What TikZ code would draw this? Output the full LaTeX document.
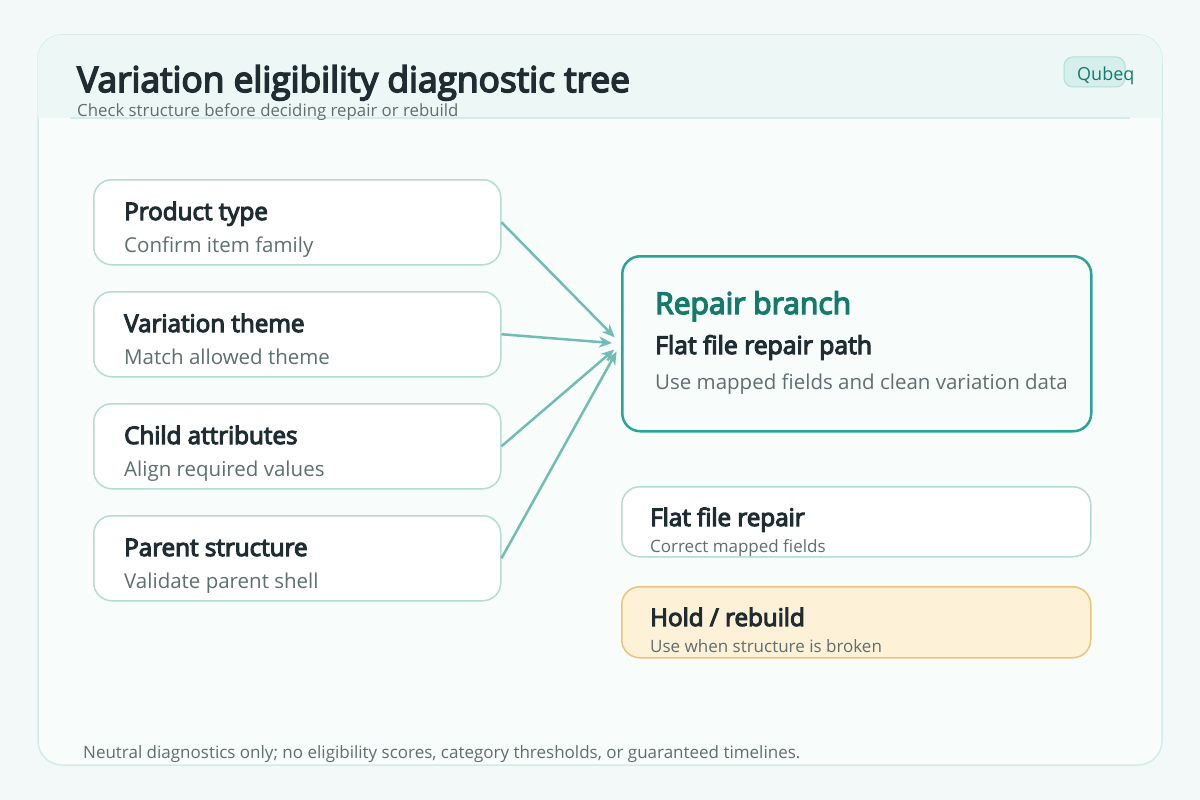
\documentclass[tikz,border=0pt]{standalone}
\usepackage{fontspec}
\setmainfont{Open Sans}
\newfontfamily\heavy[FakeBold=4.5]{Open Sans}
\usetikzlibrary{arrows.meta}
\definecolor{bg}{HTML}{F3F9F8}
\definecolor{cardfill}{HTML}{F8FCFB}
\definecolor{cardline}{HTML}{D3ECE7}
\definecolor{headfill}{HTML}{EDF7F5}
\definecolor{boxline}{HTML}{B5DBD5}
\definecolor{accent}{HTML}{2AA398}
\definecolor{accentdark}{HTML}{147A6C}
\definecolor{arrowc}{HTML}{70BDB3}
\definecolor{ink}{HTML}{1F2D33}
\definecolor{muted}{HTML}{5F6E6E}
\definecolor{holdfill}{HTML}{FDF2D8}
\definecolor{holdline}{HTML}{E9C47A}
\definecolor{badgefill}{HTML}{D6EFEC}
\definecolor{badgeline}{HTML}{B4DDD7}
\tikzset{
  card/.style={draw=boxline, line width=1.5pt, fill=white, rounded corners=18pt, inner sep=0pt},
  ttl/.style={anchor=base west, inner sep=0pt, text=ink, font=\heavy\fontsize{24.2}{28}\selectfont},
  sub/.style={anchor=base west, inner sep=0pt, text=muted, font=\fontsize{20.5}{24}\selectfont},
  smallsub/.style={anchor=base west, inner sep=0pt, text=muted, font=\fontsize{17}{20}\selectfont},
  arr/.style={draw=arrowc, line width=2.5pt, -{Stealth[length=13pt,width=11pt]}, shorten >=9pt}
}
\begin{document}
\begin{tikzpicture}[x=1pt,y=-1pt]
\useasboundingbox (0,0) rectangle (1200,800);
\fill[bg] (0,0) rectangle (1200,800);
% card
\draw[cardline, line width=1.5pt, fill=cardfill, rounded corners=24pt] (38,35) rectangle (1162,765);
\begin{scope}
\clip[rounded corners=24pt] (38,35) rectangle (1162,765);
\fill[headfill] (38,35) rectangle (1162,118);
\end{scope}
\draw[cardline, line width=1.5pt] (70,118) -- (1130,118);
% header texts
\node[anchor=base west, inner sep=0pt, text=ink, font=\heavy\fontsize{35.3}{40}\selectfont] (title) at (77,92) {Variation eligibility diagnostic tree};
\node[anchor=base west, inner sep=0pt, text=muted, font=\fontsize{16.8}{20}\selectfont] (subtitle) at (77,116) {Check structure before deciding repair or rebuild};
% badge
\draw[badgeline, fill=badgefill, line width=1pt, rounded corners=9pt] (1064,57) rectangle (1125,87);
\node[anchor=base west, inner sep=0pt, text=accentdark, font=\fontsize{18}{20}\selectfont] (badge) at (1077,81) {Qubeq};
% left boxes
\node[card, minimum width=407pt, minimum height=85pt, anchor=north west] (b1) at (93,179) {};
\node[card, minimum width=407pt, minimum height=85pt, anchor=north west] (b2) at (93,291) {};
\node[card, minimum width=407pt, minimum height=85pt, anchor=north west] (b3) at (93,403) {};
\node[card, minimum width=407pt, minimum height=85pt, anchor=north west] (b4) at (93,515) {};
\node[ttl] (t1) at (124,220) {Product type};
\node[sub] (s1) at (124,252) {Confirm item family};
\node[ttl] (t2) at (124,332) {Variation theme};
\node[sub] (s2) at (124,364) {Match allowed theme};
\node[ttl] (t3) at (124,444) {Child attributes};
\node[sub] (s3) at (124,476) {Align required values};
\node[ttl] (t4) at (124,556) {Parent structure};
\node[sub] (s4) at (124,588) {Validate parent shell};
% repair branch
\node[draw=accent, line width=2.5pt, fill=cardfill, rounded corners=18pt, inner sep=0pt, minimum width=469pt, minimum height=175pt, anchor=north west] (rb) at (621,255) {};
\node[anchor=base west, inner sep=0pt, text=accentdark, font=\heavy\fontsize{30}{34}\selectfont] (rbt) at (655,314) {Repair branch};
\node[anchor=base west, inner sep=0pt, text=ink, font=\heavy\fontsize{24.7}{28}\selectfont] (rbs) at (655,354) {Flat file repair path};
\node[sub] (rbd) at (655,389) {Use mapped fields and clean variation data};
% outcome boxes
\node[card, minimum width=469pt, minimum height=70pt, anchor=north west] (ff) at (621,486) {};
\node[ttl] (fft) at (650,526) {Flat file repair};
\node[smallsub] (ffs) at (650,552) {Correct mapped fields};
\node[card, draw=holdline, fill=holdfill, minimum width=469pt, minimum height=71pt, anchor=north west] (hr) at (621,586) {};
\node[ttl] (hrt) at (650,626) {Hold / rebuild};
\node[smallsub] (hrs) at (650,652) {Use when structure is broken};
% arrows
\draw[arr] (b1.east) -- (rb.west);
\draw[arr] (b2.east) -- (rb.west);
\draw[arr] (b3.east) -- (rb.west);
\draw[arr] (b4.east) -- (rb.west);
% footer
\node[anchor=base west, inner sep=0pt, text=muted, font=\fontsize{17}{20}\selectfont] (foot) at (83,758) {Neutral diagnostics only; no eligibility scores, category thresholds, or guaranteed timelines.};
\end{tikzpicture}
\end{document}
